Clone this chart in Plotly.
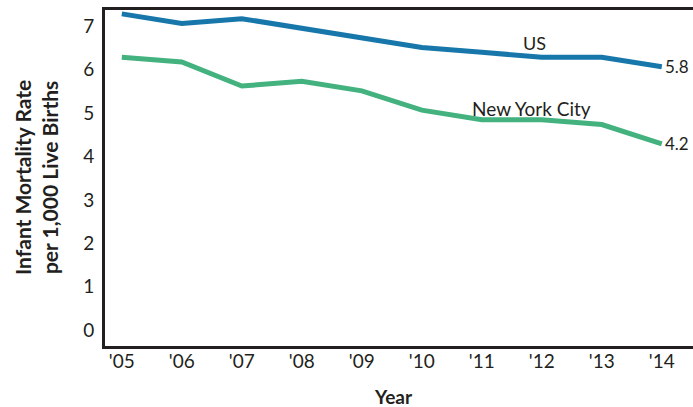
import plotly.graph_objects as go

years = [2005, 2006, 2007, 2008, 2009, 2010, 2011, 2012, 2013, 2014]
year_labels = ["'05", "'06", "'07", "'08", "'09", "'10", "'11", "'12", "'13", "'14"]
us_rate = [6.9, 6.7, 6.8, 6.6, 6.4, 6.2, 6.1, 6.0, 6.0, 5.8]
nyc_rate = [6.0, 5.9, 5.4, 5.5, 5.3, 4.9, 4.7, 4.7, 4.6, 4.2]
y_tick_text = ["0", "1", "2", "3", "4", "5", "6", "7"]

US_COLOR = "#1877aa"
NYC_COLOR = "#43b27f"
INK = "#231f20"
FONT = "Lato"

W, H = 693, 407
ML, MT, MB, MR = 105, 10, 61, 0
PW = W - ML - MR
PH = H - MT - MB

fig = go.Figure()
fig.add_trace(go.Scatter(x=years, y=us_rate, mode="lines", name="US",
                         line=dict(color=US_COLOR, width=5), hoverinfo="skip"))
fig.add_trace(go.Scatter(x=years, y=nyc_rate, mode="lines", name="New York City",
                         line=dict(color=NYC_COLOR, width=5), hoverinfo="skip"))

# tick labels are placed as in the original (evenly spaced, slightly offset)
y_tick_pos = [0.33 + 0.902 * i for i in range(len(y_tick_text))]

fig.update_layout(
    width=W, height=H,
    margin=dict(l=ML, r=MR, t=MT, b=MB, autoexpand=False),
    paper_bgcolor="white", plot_bgcolor="white",
    showlegend=False,
    font=dict(family=FONT, color=INK, size=18),
    xaxis=dict(range=[2004.72, 2014.52], tickvals=years, ticktext=year_labels,
               showgrid=False, zeroline=False, showline=True, linewidth=3,
               linecolor=INK, mirror=True, ticks="", tickfont=dict(size=19),
               ticklabelstandoff=-4),
    yaxis=dict(range=[0, 6.98], tickvals=y_tick_pos, ticktext=y_tick_text,
               showgrid=False, zeroline=False, showline=True, linewidth=3,
               linecolor=INK, mirror=True, ticks="", tickfont=dict(size=19),
               ticklabelstandoff=4),
)

fig.add_annotation(x=years[-1], y=us_rate[-1], text=f"{us_rate[-1]:.1f}",
                   xanchor="left", yanchor="middle", xshift=1, showarrow=False,
                   font=dict(size=17, color=INK))
fig.add_annotation(x=years[-1], y=nyc_rate[-1], text=f"{nyc_rate[-1]:.1f}",
                   xanchor="left", yanchor="middle", xshift=1, showarrow=False,
                   font=dict(size=17, color=INK))
fig.add_annotation(x=2011.87, y=6.30, text="US", showarrow=False,
                   font=dict(size=18, color=INK))
fig.add_annotation(x=2011.82, y=4.93, text="New York City", showarrow=False,
                   font=dict(size=19, color=INK))

fig.add_annotation(xref="paper", yref="paper", x=(36 - ML) / PW, y=0.5,
                   text="<b>Infant Mortality Rate<br>per 1,000 Live Births</b>",
                   textangle=-90, showarrow=False, xanchor="center", yanchor="middle",
                   font=dict(size=21, color=INK))
fig.add_annotation(xref="paper", yref="paper", x=(393 - ML) / PW, y=(346 - 397) / PH,
                   text="<b>Year</b>", showarrow=False, xanchor="center",
                   yanchor="middle", font=dict(size=19, color=INK))

fig.write_html(
    "out.html",
    config={"displayModeBar": False},
    post_script="document.body.style.margin='0';document.body.style.overflow='hidden';",
)
